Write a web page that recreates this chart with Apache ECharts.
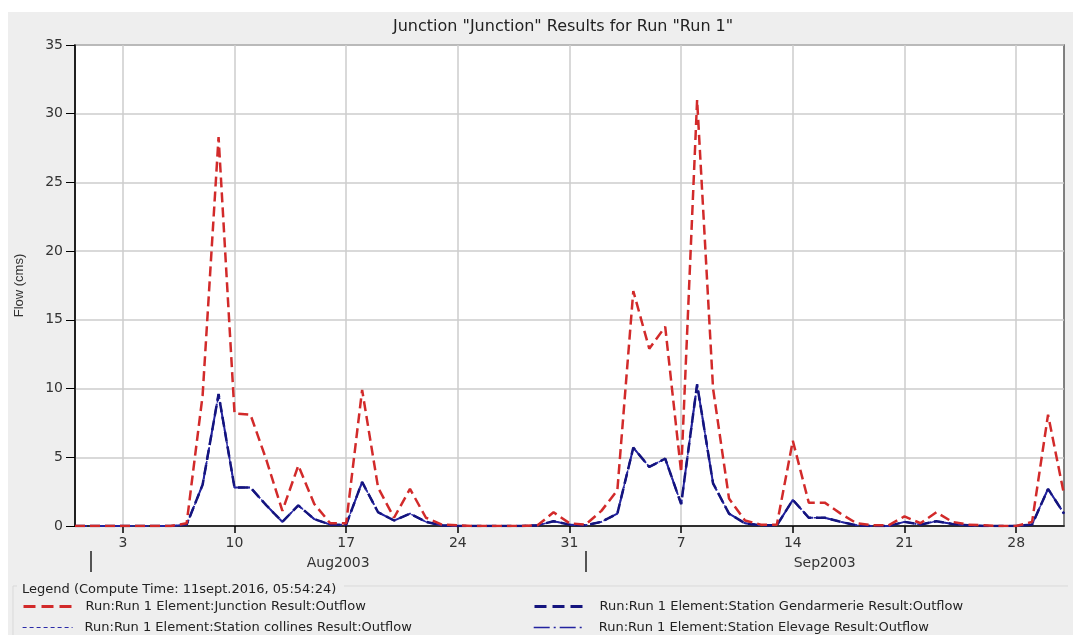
<!DOCTYPE html>
<html>
<head>
<meta charset="utf-8">
<script src="https://cdn.jsdelivr.net/npm/echarts@6/dist/echarts.min.js"></script>
<style>
  html, body { margin: 0; padding: 0; background: #ffffff; }
  #wrap { position: relative; width: 1073px; height: 635px; overflow: hidden; }
  #panel { position: absolute; left: 8px; top: 12px; right: 0; bottom: 0; background: #eeeeee; }
  #chart { position: absolute; left: 0; top: 0; width: 1073px; height: 635px; }
</style>
</head>
<body>
<div id="wrap">
  <div id="panel"></div>
  <div id="chart"></div>
</div>
<script>
// Daily outflow, 31 Jul 2003 (day 0) to 1 Oct 2003 (day 62), in m3/s
const junctionFlow = [
  0, 0, 0, 0, 0, 0, 0, 0.2, 9.5, 28.3,          // Jul 31, Aug 1-9
  8.2, 8.1, 4.8, 1.1, 4.4, 1.6, 0.2, 0.2, 9.9, 2.8, // Aug 10-19
  0.6, 2.7, 0.6, 0.1, 0.05, 0, 0, 0, 0, 0.05,   // Aug 20-29
  1.0, 0.2,                                     // Aug 30-31
  0.1, 1.1, 2.6, 17.1, 12.9, 14.5, 3.9, 31.0, 10.0, 2.0, // Sep 1-10
  0.4, 0.1, 0.1, 6.2, 1.7, 1.7, 0.9, 0.2, 0.05, 0.05,    // Sep 11-20
  0.7, 0.2, 1.0, 0.3, 0.1, 0.05, 0, 0, 0.3, 8.1,         // Sep 21-30
  2.3                                           // Oct 1
];
const gendarmerieFlow = [
  0, 0, 0, 0, 0, 0, 0, 0.1, 3.0, 9.6,
  2.8, 2.8, 1.5, 0.3, 1.5, 0.5, 0.1, 0.1, 3.2, 1.0,
  0.4, 0.9, 0.3, 0.05, 0, 0, 0, 0, 0, 0.05,
  0.35, 0.1,
  0.05, 0.3, 0.9, 5.7, 4.3, 4.9, 1.6, 10.3, 3.1, 0.9,
  0.2, 0.05, 0.05, 1.9, 0.6, 0.6, 0.3, 0.05, 0, 0,
  0.3, 0.1, 0.35, 0.15, 0.05, 0, 0, 0, 0.1, 2.7,
  0.9
];
// The two smaller station hydrographs lie on the Gendarmerie curve at this scale
const collinesFlow = [
  0, 0, 0, 0, 0, 0, 0, 0.1, 3.0, 9.5,
  2.8, 2.8, 1.5, 0.3, 1.5, 0.5, 0.1, 0.1, 3.2, 1.0,
  0.4, 0.9, 0.3, 0.05, 0, 0, 0, 0, 0, 0.05,
  0.35, 0.1,
  0.05, 0.3, 0.9, 5.7, 4.3, 4.9, 1.6, 10.3, 3.1, 0.9,
  0.2, 0.05, 0.05, 1.9, 0.6, 0.6, 0.3, 0.05, 0, 0,
  0.3, 0.1, 0.35, 0.15, 0.05, 0, 0, 0, 0.1, 2.7,
  0.9
];
const elevageFlow = [
  0, 0, 0, 0, 0, 0, 0, 0.1, 3.0, 9.6,
  2.8, 2.8, 1.5, 0.3, 1.5, 0.5, 0.1, 0.1, 3.2, 1.0,
  0.4, 0.9, 0.3, 0.05, 0, 0, 0, 0, 0, 0.05,
  0.35, 0.1,
  0.05, 0.3, 0.9, 5.7, 4.3, 4.9, 1.6, 10.3, 3.1, 0.9,
  0.2, 0.05, 0.05, 1.9, 0.6, 0.6, 0.3, 0.05, 0, 0,
  0.3, 0.1, 0.35, 0.15, 0.05, 0, 0, 0, 0.1, 2.7,
  0.9
];

// Weekly ticks (day index) and their day-of-month labels
const tickDays = [3, 10, 17, 24, 31, 38, 45, 52, 59];
const tickLabels = ['3', '10', '17', '24', '31', '7', '14', '21', '28'];
// Month boundaries and month captions
const monthStarts = [1, 32];
const monthCenters = [16.5, 47];
const monthLabels = ['Aug2003', 'Sep2003'];

const seriesNames = [
  'Run:Run 1 Element:Junction Result:Outflow',
  'Run:Run 1 Element:Station Gendarmerie Result:Outflow',
  'Run:Run 1 Element:Station collines Result:Outflow',
  'Run:Run 1 Element:Station Elevage Result:Outflow'
];

const FONT = 'DejaVu Sans';
const toPairs = arr => arr.map((v, i) => [i, v]);

// one legend entry per slot: [series index, left, top, text pad, legend line]
const legendSlots = [
  [0, 22, 600, 7, { color: '#d22a2a', width: 3, type: [12, 6] }],
  [2, 22, 621, 7, { color: '#2a2aa8', width: 1.2, type: [4, 3] }],
  [1, 533, 600, 10, { color: '#14147e', width: 3, type: [12, 6] }],
  [3, 533, 621, 10, { color: '#2323a0', width: 1.4, type: [16, 4, 2, 4] }]
];

const chart = echarts.init(document.getElementById('chart'), null, { renderer: 'canvas' });

chart.setOption({
  backgroundColor: 'transparent',
  animation: false,
  title: [
    {
      text: 'Junction "Junction" Results for Run "Run 1"',
      left: 388, top: 14,
      textStyle: { fontFamily: FONT, fontSize: 16, fontWeight: 'normal', color: '#222' }
    },
    {
      text: 'Legend (Compute Time: 11sept.2016, 05:54:24)',
      left: 17, top: 578,
      textStyle: { fontFamily: FONT, fontSize: 13, fontWeight: 'normal', color: '#222' }
    }
  ],
  grid: {
    left: 75, right: 9, top: 45, height: 481,
    show: true, backgroundColor: '#ffffff', borderColor: '#5a5a5a', borderWidth: 1.5
  },
  legend: legendSlots.map(([idx, left, top, pad, line]) => ({
    orient: 'horizontal', left: left, top: top, padding: 0,
    itemWidth: 50, itemHeight: 14,
    data: [seriesNames[idx]],
    itemStyle: { opacity: 0 },
    lineStyle: line,
    textStyle: { fontFamily: FONT, fontSize: 13, color: '#222', padding: [0, 0, 0, pad] }
  })),
  xAxis: [
    {
      type: 'value', min: 0, max: 62, position: 'bottom',
      axisLine: { show: true, lineStyle: { color: '#000', width: 1.5 } },
      axisTick: { show: true, length: 7, customValues: tickDays, lineStyle: { color: '#000', width: 1.5 } },
      axisLabel: {
        customValues: tickDays, margin: 10,
        fontFamily: FONT, fontSize: 14, color: '#333',
        formatter: v => tickLabels[tickDays.indexOf(Math.round(v))] || ''
      },
      splitLine: { show: true, lineStyle: { color: '#cccccc', width: 1.5 } }
    },
    {
      type: 'value', min: 0, max: 62, position: 'bottom', offset: 25,
      axisLine: { show: false },
      axisTick: { show: true, length: 21, customValues: monthStarts, lineStyle: { color: '#222', width: 1.5 } },
      axisLabel: {
        customValues: monthCenters, margin: 5,
        fontFamily: FONT, fontSize: 14, color: '#333',
        formatter: v => monthLabels[monthCenters.indexOf(v)] || ''
      },
      splitLine: { show: false }
    }
  ],
  yAxis: {
    type: 'value', min: 0, max: 35, interval: 5,
    name: 'Flow (cms)', nameLocation: 'middle', nameGap: 49,
    nameTextStyle: { fontFamily: 'Liberation Sans', fontSize: 13, color: '#333' },
    axisLine: { show: true, lineStyle: { color: '#000', width: 1.5 } },
    axisTick: { show: true, length: 9, lineStyle: { color: '#000', width: 1 } },
    axisLabel: { margin: 12, fontFamily: FONT, fontSize: 14, color: '#333' },
    splitLine: { show: true, lineStyle: { color: '#cccccc', width: 1.5 } }
  },
  series: [
    {
      name: seriesNames[2], type: 'line', symbol: 'none', xAxisIndex: 0,
      data: toPairs(collinesFlow),
      lineStyle: { color: '#2a2aa8', width: 1.5, type: [4, 3] },
      itemStyle: { color: '#2a2aa8' }
    },
    {
      name: seriesNames[3], type: 'line', symbol: 'none', xAxisIndex: 0,
      data: toPairs(elevageFlow),
      lineStyle: { color: '#2323a0', width: 2, type: [12, 3, 2, 3] },
      itemStyle: { color: '#2323a0' }
    },
    {
      name: seriesNames[1], type: 'line', symbol: 'none', xAxisIndex: 0,
      data: toPairs(gendarmerieFlow),
      lineStyle: { color: '#14147e', width: 2.5, type: [10, 5] },
      itemStyle: { color: '#14147e' }
    },
    {
      name: seriesNames[0], type: 'line', symbol: 'none', xAxisIndex: 0,
      data: toPairs(junctionFlow),
      lineStyle: { color: '#d22a2a', width: 2.5, type: [10, 5] },
      itemStyle: { color: '#d22a2a' }
    }
  ],
  graphic: [
    // etched frame around the legend block
    { type: 'line', silent: true, shape: { x1: 13, y1: 586, x2: 17, y2: 586 }, style: { stroke: '#d9d9d9', lineWidth: 1 } },
    { type: 'line', silent: true, shape: { x1: 344, y1: 586, x2: 1068, y2: 586 }, style: { stroke: '#d9d9d9', lineWidth: 1 } },
    { type: 'line', silent: true, shape: { x1: 13, y1: 586, x2: 13, y2: 635 }, style: { stroke: '#d9d9d9', lineWidth: 1 } }
  ]
});
</script>
</body>
</html>
